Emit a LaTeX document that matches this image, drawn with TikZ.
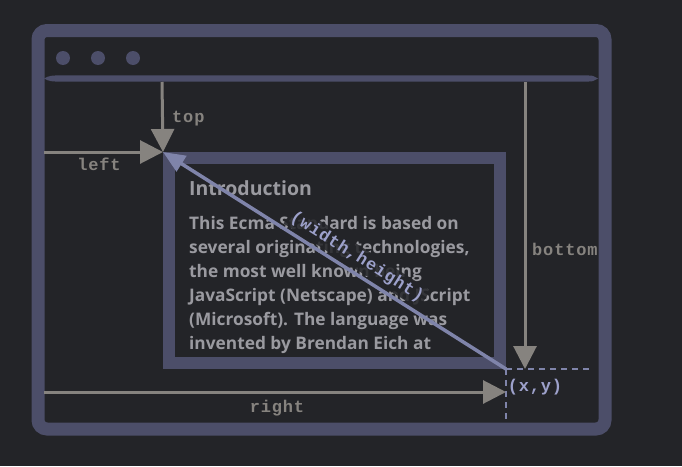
\documentclass[tikz,border=0pt]{standalone}
\usepackage{fontspec}
\setmainfont{Open Sans}
\newfontfamily\codefont[LetterSpace=5]{Liberation Mono}
\usetikzlibrary{arrows.meta}
\definecolor{bg}{HTML}{232428}
\definecolor{framec}{HTML}{4C4E69}
\definecolor{arrowgray}{HTML}{86837F}
\definecolor{lav}{HTML}{7F84AA}
\definecolor{lavtext}{HTML}{9DA1CB}
\definecolor{txt}{HTML}{9A9AA0}
\tikzset{
  grayarrow/.style={draw=arrowgray, line width=3pt, -{Triangle[length=23pt,width=23pt]}},
  codelabel/.style={text=arrowgray, font=\codefont\bfseries\fontsize{17}{20}\selectfont, inner sep=0pt},
  bodyline/.style={text=txt, font=\bfseries\fontsize{17.3}{24}\selectfont, inner sep=0pt, anchor=base west},
  dot/.style={circle, fill=framec, minimum size=14pt, inner sep=0pt}
}
\begin{document}
\begin{tikzpicture}[x=1pt,y=-1pt]
\fill[bg] (0,0) rectangle (682,466);
\useasboundingbox (0,0) rectangle (682,466);
% window
\node[draw=framec, line width=13pt, rounded corners=9pt, minimum width=567pt, minimum height=398.5pt, inner sep=0pt] (win) at (321.5,229.75) {};
\node[dot] (d1) at (63,58) {};
\node[dot] (d2) at (98,58) {};
\node[dot] (d3) at (133,58) {};
\fill[framec] (44,78.5) .. controls (50,75.5) .. (64,75.3) -- (580,75.3) .. controls (594,75.5) .. (598,78.5) .. controls (594,81.5) .. (580,81.7) -- (64,81.7) .. controls (50,81.5) .. cycle;
% element
\node[draw=framec, line width=12pt, minimum width=331pt, minimum height=205pt, inner sep=0pt] (elem) at (334.5,260.5) {};
\node[text=txt, font=\bfseries\fontsize{19.5}{24}\selectfont, inner sep=0pt, anchor=base west] (intro) at (189,195) {Introduction};
\node[bodyline] (b1) at (189,229) {This Ecma Standard is based on};
\node[bodyline] (b2) at (189,253) {several originating technologies,};
\node[bodyline] (b3) at (189,277) {the most well known being};
\node[bodyline] (b4) at (189,301) {JavaScript (Netscape) and JScript};
\node[bodyline] (b5) at (189,325) {(Microsoft). The language was};
\node[bodyline] (b6) at (189,349) {invented by Brendan Eich at};
% coordinates
\coordinate (TL) at (163,152);
\coordinate (BR) at (506,369);
\coordinate (topS) at (162,82);
\coordinate (leftS) at (44,152);
\coordinate (botS) at (525,82);
\coordinate (botE) at (525,369);
\coordinate (rightS) at (44,392);
\coordinate (rightE) at (506,392);
\coordinate (dashH) at (592,369);
\coordinate (dashV) at (506,421);
% dashed
\draw[lav, line width=2pt, dash pattern=on 6pt off 5pt] (BR) -- (dashH);
\draw[lav, line width=2pt, dash pattern=on 6pt off 5pt] (BR) -- (dashV);
% gray arrows
\draw[grayarrow] (topS) -- (TL);
\draw[grayarrow] (leftS) -- (TL);
\draw[grayarrow] (botS) -- (botE);
\draw[grayarrow] (rightS) -- (rightE);
\node[codelabel, anchor=base west] (ltop) at (172,122) {top};
\node[codelabel, anchor=base] (lleft) at (99,170) {left};
\node[codelabel, anchor=base west] (lbot) at (532,255) {bottom};
\node[codelabel, anchor=base] (lright) at (277,412) {right};
\node[codelabel, text=lavtext, anchor=base] (lxy) at (535,391) {(x,y)};
% diagonal
\node[codelabel, text=lavtext, fill=bg, fill opacity=0.85, text opacity=1, inner sep=3pt, rotate=-32.3] (lwh) at (357,257) {(width,height)};
\draw[lav, line width=3.5pt, -{Triangle[length=22pt,width=18pt]}] (BR) -- (TL);
\end{tikzpicture}
\end{document}
